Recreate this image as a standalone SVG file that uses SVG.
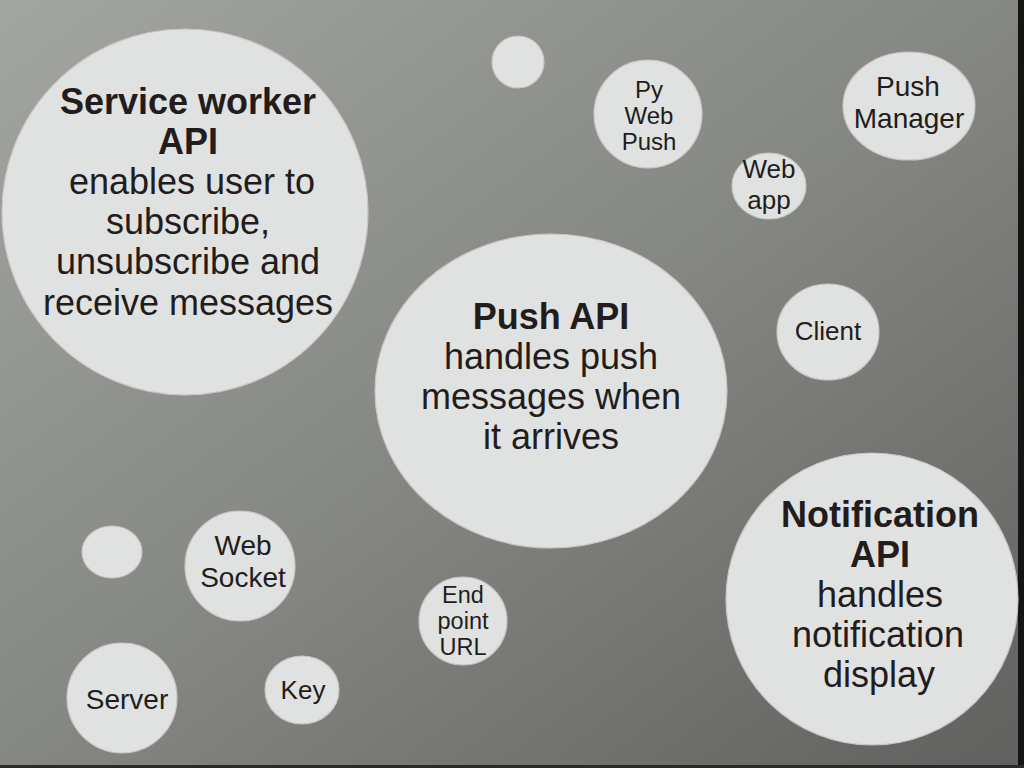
<svg xmlns="http://www.w3.org/2000/svg" width="1024" height="768" viewBox="0 0 1024 768">
  <defs>
    <linearGradient id="bg" x1="0" y1="0" x2="1" y2="1">
      <stop offset="0" stop-color="#a2a5a0"/>
      <stop offset="0.5" stop-color="#858783"/>
      <stop offset="1" stop-color="#60615e"/>
    </linearGradient>
    <style>
      .bubble { fill: #dfe2e0; stroke: #c9c6c6; stroke-width: 1.2; }
      text { font-family: "Liberation Sans", Arial, sans-serif; fill: #231c1c; text-anchor: middle; }
      .b { font-weight: bold; }
      .big { font-size: 36px; }
    </style>
  </defs>

  <rect width="1024" height="768" fill="url(#bg)"/>
  <rect x="1018" y="0" width="6" height="768" fill="#141414"/>
  <rect x="0" y="765" width="1024" height="3" fill="#2a2a2a"/>

  <g id="connectors"/>

  <g id="service-worker">
    <circle class="bubble" cx="185" cy="212" r="183"/>
    <text x="188" y="114" class="big b">Service worker</text>
    <text x="188" y="154" class="big b">API</text>
    <text x="192" y="194" class="big">enables user to</text>
    <text x="188" y="234" class="big">subscribe,</text>
    <text x="188" y="274" class="big">unsubscribe and</text>
    <text x="188" y="315" class="big">receive messages</text>
  </g>

  <g id="dot-top">
    <circle class="bubble" cx="518" cy="62" r="26"/>
  </g>

  <g id="pywebpush">
    <circle class="bubble" cx="648" cy="114" r="54"/>
    <text x="649" y="98" font-size="24">Py</text>
    <text x="649" y="124" font-size="24">Web</text>
    <text x="649" y="150" font-size="24">Push</text>
  </g>

  <g id="push-manager">
    <ellipse class="bubble" cx="909" cy="106" rx="66" ry="54"/>
    <text x="908" y="96" font-size="28">Push</text>
    <text x="909" y="128" font-size="28">Manager</text>
  </g>

  <g id="web-app">
    <ellipse class="bubble" cx="769" cy="186" rx="37" ry="33"/>
    <text x="769" y="178" font-size="26">Web</text>
    <text x="769" y="209" font-size="26">app</text>
  </g>

  <g id="client">
    <ellipse class="bubble" cx="828" cy="332" rx="51" ry="48"/>
    <text x="828" y="340" font-size="26">Client</text>
  </g>

  <g id="push-api">
    <ellipse class="bubble" cx="551" cy="391" rx="176" ry="157"/>
    <text x="551" y="329" class="big b">Push API</text>
    <text x="551" y="369" class="big">handles push</text>
    <text x="551" y="409" class="big">messages when</text>
    <text x="551" y="449" class="big">it arrives</text>
  </g>

  <g id="notification-api">
    <circle class="bubble" cx="872" cy="599" r="146"/>
    <text x="880" y="527" class="big b">Notification</text>
    <text x="880" y="567" class="big b">API</text>
    <text x="880" y="607" class="big">handles</text>
    <text x="878" y="647" class="big">notification</text>
    <text x="879" y="687" class="big">display</text>
  </g>

  <g id="dot-left">
    <ellipse class="bubble" cx="112" cy="552" rx="30" ry="26"/>
  </g>

  <g id="websocket">
    <circle class="bubble" cx="240" cy="566" r="55"/>
    <text x="243" y="555" font-size="28">Web</text>
    <text x="243" y="587" font-size="28">Socket</text>
  </g>

  <g id="endpoint-url">
    <circle class="bubble" cx="463" cy="621" r="44"/>
    <text x="463" y="603" font-size="23.5">End</text>
    <text x="463" y="629" font-size="23.5">point</text>
    <text x="463" y="655" font-size="23.5">URL</text>
  </g>

  <g id="server">
    <circle class="bubble" cx="122" cy="698" r="55"/>
    <text x="127" y="709" font-size="28">Server</text>
  </g>

  <g id="key">
    <ellipse class="bubble" cx="302" cy="690" rx="37" ry="34"/>
    <text x="303" y="699" font-size="26">Key</text>
  </g>
</svg>
